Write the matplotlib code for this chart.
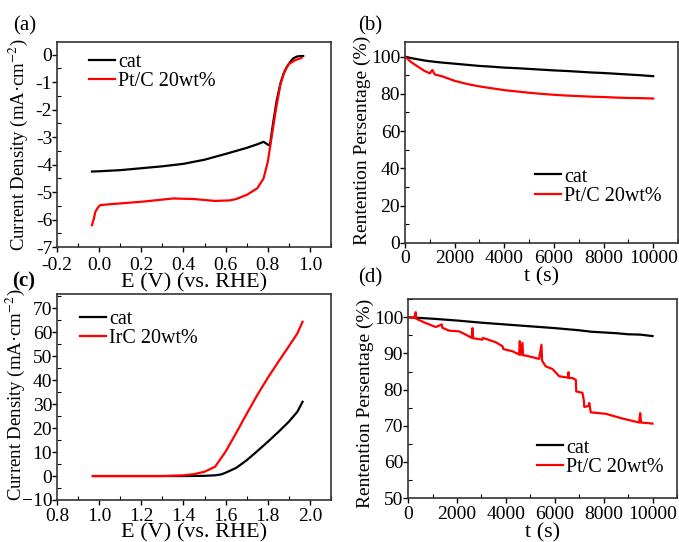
import matplotlib
matplotlib.use("Agg")
import matplotlib.pyplot as plt
from matplotlib.ticker import MultipleLocator, FuncFormatter

plt.rcParams['font.family'] = ['Liberation Serif', 'DejaVu Serif']
plt.rcParams['mathtext.fontset'] = 'stix'

# (a) ORR polarisation curves
orr_e_cat = [-0.034, 0.0, 0.1, 0.2, 0.3, 0.4, 0.5, 0.6, 0.7, 0.75, 0.78, 0.80, 0.81,
             0.825, 0.842, 0.86, 0.874, 0.89, 0.905, 0.92, 0.937, 0.955, 0.968]
orr_j_cat = [-4.25, -4.24, -4.2, -4.13, -4.06, -3.97, -3.82, -3.61, -3.39, -3.26, -3.17,
             -3.27, -3.3, -2.5, -1.68, -1.05, -0.71, -0.45, -0.28, -0.14, -0.07, -0.05, -0.05]
orr_e_pt = [-0.034, -0.025, -0.018, -0.005, 0.005, 0.05, 0.1, 0.2, 0.3, 0.35, 0.45, 0.55,
            0.62, 0.65, 0.7, 0.75, 0.78, 0.8, 0.82, 0.84, 0.86, 0.88, 0.9, 0.93, 0.96]
orr_j_pt = [-6.2, -5.95, -5.71, -5.55, -5.47, -5.44, -5.41, -5.35, -5.27, -5.23, -5.25, -5.32,
            -5.3, -5.25, -5.1, -4.86, -4.5, -3.9, -2.9, -1.93, -1.07, -0.59, -0.34, -0.2, -0.12]

# (b) ORR stability
t_b = [0, 250, 500, 750, 1000, 1100, 1200, 1500, 2000, 2500, 3000, 3500, 4000, 4500, 5000,
       5500, 6000, 6500, 7000, 7500, 8000, 8500, 9000, 9500, 10000]
ret_b_cat = [100, 99.2, 98.6, 98.0, 97.5, 97.4, 97.2, 96.8, 96.2, 95.6, 95.0, 94.6, 94.1, 93.8,
             93.4, 93.0, 92.6, 92.3, 91.9, 91.5, 91.2, 90.8, 90.4, 90.0, 89.5]
ret_b_pt = [100, 97.0, 94.8, 92.6, 91.0, 92.8, 90.4, 89.4, 87.0, 85.3, 84.0, 83.0, 82.0, 81.3,
            80.6, 80.0, 79.5, 79.1, 78.8, 78.5, 78.3, 78.0, 77.8, 77.7, 77.5]

# (c) OER polarisation curves
oer_e_cat = [0.97, 1.1, 1.2, 1.3, 1.4, 1.5, 1.55, 1.58, 1.6, 1.65, 1.7, 1.75, 1.8, 1.85,
             1.9, 1.94, 1.965]
oer_j_cat = [0, 0, 0, 0, 0, 0.1, 0.3, 0.7, 1.4, 3.4, 6.6, 10.4, 14.3, 18.4, 22.7, 26.8, 31.0]
oer_e_ir = [0.97, 1.1, 1.2, 1.3, 1.4, 1.45, 1.5, 1.55, 1.6, 1.65, 1.7, 1.75, 1.8, 1.85,
            1.9, 1.94, 1.965]
oer_j_ir = [0, 0, 0, 0, 0.3, 0.8, 1.8, 3.9, 10.2, 18.0, 26.0, 33.8, 41.0, 47.7, 54.2, 59.5, 64.4]

# (d) OER stability
t_d = [0, 1000, 2000, 3000, 4000, 5000, 6000, 6500, 7000, 7500, 8000, 8500, 9000, 9500, 10000]
ret_d_cat = [100, 99.6, 99.1, 98.5, 98.0, 97.5, 97.0, 96.7, 96.4, 96.0, 95.8, 95.6, 95.3, 95.2, 94.8]
t_d_pt = [0, 250, 314, 330, 723, 1132, 1380, 1400, 1678, 2087, 2360, 2606, 2630, 2660, 3042,
          3060, 3588, 3860, 3900, 4270, 4543, 4570, 4600, 4680, 4700, 4816, 5361, 5457, 5480,
          5500, 5634, 5907, 6180, 6540, 6562, 6590, 6726, 6862, 6880, 7135, 7190, 7210, 7400,
          7408, 7476, 8090, 8772, 9454, 9495, 9530, 10000]
ret_d_pt = [100, 99.8, 101.4, 99.6, 98.4, 97.3, 98.0, 97.1, 96.3, 96.1, 95.2, 94.3, 97.0, 94.2,
            93.8, 94.3, 93.1, 92.0, 91.2, 90.6, 89.7, 93.4, 89.6, 92.9, 89.5, 89.4, 88.5, 92.4,
            88.0, 87.8, 86.4, 85.7, 83.7, 83.3, 84.8, 83.2, 83.2, 82.7, 79.5, 79.1, 77.0, 75.2,
            75.5, 76.3, 73.7, 73.3, 72.0, 70.9, 73.5, 70.9, 70.6]

fig = plt.figure(figsize=(6.79, 5.42), dpi=100)
ax_a = fig.add_axes([0.084, 0.544, 0.4035, 0.378])
ax_b = fig.add_axes([0.5965, 0.552, 0.402, 0.371])
ax_c = fig.add_axes([0.084, 0.0775, 0.4035, 0.380])
ax_d = fig.add_axes([0.601, 0.081, 0.396, 0.367])

lw = 1.6
leg_kw = dict(loc='upper left', frameon=False, fontsize=14.5, handlelength=1.3,
              handletextpad=0.15, labelspacing=0.0, borderaxespad=0, borderpad=0)

ax_a.plot(orr_e_cat, orr_j_cat, color='black', lw=lw, label='cat')
ax_a.plot(orr_e_pt, orr_j_pt, color='red', lw=lw, label='Pt/C 20wt%')
ax_a.set_xlim(-0.2, 1.1)
ax_a.set_ylim(-7, 0.45)
ax_a.xaxis.set_major_locator(MultipleLocator(0.2))
ax_a.xaxis.set_minor_locator(MultipleLocator(0.1))
ax_a.yaxis.set_major_locator(MultipleLocator(1))
ax_a.yaxis.set_minor_locator(MultipleLocator(0.5))
ax_a.xaxis.set_major_formatter(FuncFormatter(lambda v, p: f"{v:.1f}"))
ax_a.yaxis.set_major_formatter(FuncFormatter(lambda v, p: f"{v:.0f}"))
ax_a.set_xlabel('E (V) (vs. RHE)', fontsize=16, labelpad=-0.5)
ax_a.set_ylabel('Current Density (mA·cm$^{-2}$)', fontsize=13.5)
ax_a.yaxis.set_label_coords(-0.1, 0.5)
ax_a.legend(bbox_to_anchor=(0.117, 0.95), **leg_kw)

ax_b.plot(t_b, ret_b_cat, color='black', lw=lw, label='cat')
ax_b.plot(t_b, ret_b_pt, color='red', lw=lw, label='Pt/C 20wt%')
ax_b.set_xlim(0, 11000)
ax_b.set_ylim(0, 108)
ax_b.xaxis.set_major_locator(MultipleLocator(2000))
ax_b.xaxis.set_minor_locator(MultipleLocator(1000))
ax_b.yaxis.set_major_locator(MultipleLocator(20))
ax_b.yaxis.set_minor_locator(MultipleLocator(10))
ax_b.set_xlabel('t (s)', fontsize=16, labelpad=0)
ax_b.set_ylabel('Rentention Persentage (%)', fontsize=14)
ax_b.yaxis.set_label_coords(-0.125, 0.51)
ax_b.legend(bbox_to_anchor=(0.476, 0.375), **leg_kw)

ax_c.plot(oer_e_cat, oer_j_cat, color='black', lw=lw, label='cat')
ax_c.plot(oer_e_ir, oer_j_ir, color='red', lw=lw, label='IrC 20wt%')
ax_c.set_xlim(0.8, 2.1)
ax_c.set_ylim(-10, 76)
ax_c.xaxis.set_major_locator(MultipleLocator(0.2))
ax_c.xaxis.set_minor_locator(MultipleLocator(0.1))
ax_c.yaxis.set_major_locator(MultipleLocator(10))
ax_c.yaxis.set_minor_locator(MultipleLocator(5))
ax_c.xaxis.set_major_formatter(FuncFormatter(lambda v, p: f"{v:.1f}"))
ax_c.set_xlabel('E (V) (vs. RHE)', fontsize=16, labelpad=-1)
ax_c.set_ylabel('Current Density (mA·cm$^{-2}$)', fontsize=13.5)
ax_c.yaxis.set_label_coords(-0.11, 0.51)
ax_c.legend(bbox_to_anchor=(0.084, 0.925), **leg_kw)

ax_d.plot(t_d, ret_d_cat, color='black', lw=lw, label='cat')
ax_d.plot(t_d_pt, ret_d_pt, color='red', lw=lw, label='Pt/C 20wt%')
ax_d.set_xlim(0, 11000)
ax_d.set_ylim(50, 105)
ax_d.xaxis.set_major_locator(MultipleLocator(2000))
ax_d.xaxis.set_minor_locator(MultipleLocator(1000))
ax_d.yaxis.set_major_locator(MultipleLocator(10))
ax_d.yaxis.set_minor_locator(MultipleLocator(5))
ax_d.set_xlabel('t (s)', fontsize=16, labelpad=0)
ax_d.set_ylabel('Rentention Persentage (%)', fontsize=14)
ax_d.yaxis.set_label_coords(-0.125, 0.477)
ax_d.legend(bbox_to_anchor=(0.48, 0.3), **leg_kw)

for ax in [ax_a, ax_b, ax_c, ax_d]:
    ax.tick_params(which='major', direction='out', length=3.5, width=1, labelsize=14, pad=0)
    ax.tick_params(axis='x', which='major', pad=2)
    ax.tick_params(which='minor', direction='in', length=3, width=0.8)
    for s in ax.spines.values():
        s.set_color('#333333')
        s.set_linewidth(1.2)
ax_a.tick_params(axis='x', which='major', pad=3.5)

fig.text(13 / 679, 1 - 16 / 542, '(a)', fontsize=15, va='top')
fig.text(358 / 679, 1 - 16 / 542, '(b)', fontsize=15, va='top')
fig.text(12 / 679, 1 - 271 / 542, '(c)', fontsize=15, va='top', fontweight='bold')
fig.text(358 / 679, 1 - 268 / 542, '(d)', fontsize=15, va='top')

fig.savefig('out.png', dpi=100)
